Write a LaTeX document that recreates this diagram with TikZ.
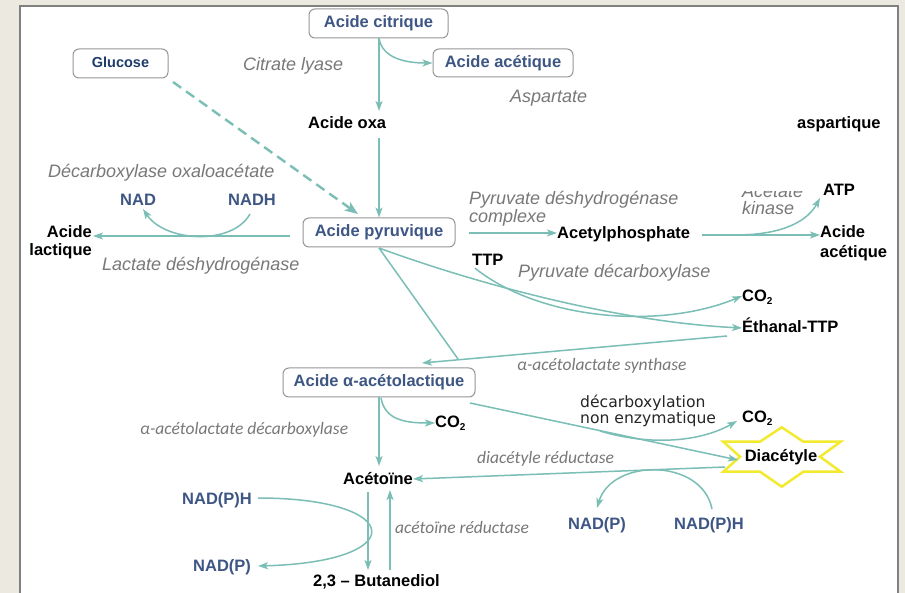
\documentclass[tikz,border=0pt]{standalone}
\usepackage{fontspec}
\setmainfont{Liberation Sans}
\newfontfamily\myr{Carlito}
\newfontfamily\dvs{DejaVu Sans}
\usetikzlibrary{arrows.meta}
\definecolor{teal1}{RGB}{122,190,182}
\definecolor{bluet}{RGB}{62,86,132}
\definecolor{glub}{RGB}{30,60,105}
\definecolor{grayt}{RGB}{120,120,120}
\definecolor{boxg}{RGB}{150,150,150}
\definecolor{beige}{RGB}{236,234,224}
\definecolor{frameg}{RGB}{128,128,128}
\definecolor{staryel}{RGB}{242,234,46}
\newcommand\cotwo{CO\raisebox{-2.5pt}{\fontsize{10}{10}\selectfont 2}}
\begin{document}
\begin{tikzpicture}[x=1pt,y=-1pt,
  bk/.style={font=\fontsize{16.5}{18}\selectfont\bfseries, inner sep=0pt, text=black},
  bl/.style={bk, text=bluet},
  it/.style={font=\fontsize{18}{20}\selectfont\itshape, inner sep=0pt, text=grayt},
  my/.style={font=\myr\fontsize{17.5}{20}\selectfont\itshape, inner sep=0pt, text=grayt},
  box/.style={draw=boxg, line width=1pt, rounded corners=6pt, fill=white,
    font=\fontsize{16.5}{18}\selectfont\bfseries, text=bluet, inner sep=0pt,
    text height=12pt, text depth=3.5pt},
  con/.style={draw=teal1, line width=1.5pt},
  arr/.style={con, -{Stealth[length=10pt,width=7pt,inset=2.5pt]}},
]
\useasboundingbox (0,0) rectangle (905,593);
\fill[beige] (0,0) rectangle (905,593);
\filldraw[fill=white, draw=frameg, line width=1.5pt] (20,6) rectangle (898,610);

% boxes
\node[box, minimum width=139pt, minimum height=29pt] (cit) at (378.5,23.5) {Acide citrique};
\node[box, minimum width=140pt, minimum height=28pt] (ace1) at (503,63) {Acide acétique};
\node[box, minimum width=95pt, minimum height=29pt, font=\fontsize{14.5}{16}\selectfont\bfseries, text=glub] (glu) at (120.5,63.5) {Glucose};
\node[box, minimum width=152pt, minimum height=29pt] (pyr) at (379,232.5) {Acide pyruvique};
\node[box, minimum width=192pt, minimum height=29pt] (alp) at (379,382.5) {Acide α-acétolactique};

% black bold labels
\node[bk, anchor=base west] (oxa) at (308,129) {Acide oxa};
\node[bk, anchor=base west] (asp) at (797,129) {aspartique};
\node[bk, anchor=base west] (acp) at (557,239) {Acetylphosphate};
\node[bk, anchor=base west] (atp) at (823,196) {ATP};
\node[bk, anchor=base west] (aa1) at (820,238) {Acide};
\node[bk, anchor=base west] (aa2) at (820,258) {acétique};
\node[bk, anchor=base west] (ttp) at (472,266) {TTP};
\node[bk, anchor=base west] (co2a) at (742,302) {\cotwo};
\node[bk, anchor=base west] (eth) at (742,333) {Éthanal-TTP};
\node[bk, anchor=base west] (co2b) at (435,428) {\cotwo};
\node[bk, anchor=base west] (co2c) at (742,423) {\cotwo};
\node[bk, anchor=base west] (aco) at (343,484) {Acétoïne};
\node[bk, anchor=base west] (but) at (313,586) {2,3 – Butanediol};
\node[bk, anchor=base east] (lac1) at (92,238) {Acide};
\node[bk, anchor=base east] (lac2) at (92,256) {lactique};

% blue labels
\node[bl, anchor=base west] (nad) at (120,206) {NAD};
\node[bl, anchor=base west] (nadh) at (228,206) {NADH};
\node[bl, anchor=base west] (nph1) at (182,504) {NAD(P)H};
\node[bl, anchor=base west] (np1) at (193,571) {NAD(P)};
\node[bl, anchor=base west] (np2) at (568,529) {NAD(P)};
\node[bl, anchor=base west] (nph2) at (674,529) {NAD(P)H};

% grey italic labels
\node[it, anchor=base west] (e1) at (243,71) {Citrate lyase};
\node[it, anchor=base west] (e2) at (510,103) {Aspartate};
\node[it, anchor=base west] (e3) at (48,178) {Décarboxylase oxaloacétate};
\node[it, anchor=base west] (e4) at (102,271) {Lactate déshydrogénase};
\node[it, anchor=base west] (e5) at (469,205) {Pyruvate déshydrogénase};
\node[it, anchor=base west] (e5b) at (469,223) {complexe};
\begin{scope}
\clip (730,192) rectangle (815,203);
\node[it, anchor=base west] (e6) at (742,198) {Acétate};
\end{scope}
\node[it, anchor=base west] (e6b) at (742,215) {kinase};
\node[it, anchor=base west] (e7) at (518,278) {Pyruvate décarboxylase};
\node[my, anchor=base west] (e8) at (517,371) {α-acétolactate synthase};
\node[my, anchor=base west] (e9) at (140,435) {α-acétolactate décarboxylase};
\node[my, anchor=base west] (e10) at (477,464) {diacétyle réductase};
\node[my, anchor=base west] (e11) at (395,533) {acétoïne réductase};
\node[font=\dvs\fontsize{15.6}{17}\selectfont, text=black!85, inner sep=0pt, anchor=base west] (e12) at (580,407) {décarboxylation};
\node[font=\dvs\fontsize{15.6}{17}\selectfont, text=black!85, inner sep=0pt, anchor=base west] (e12b) at (580,424) {non enzymatique};

% star
\draw[staryel, line width=2.5pt, fill=white] (781.7,427.3) -- (803.3,441.7) -- (840.7,441.7) -- (820,456.7) -- (840.7,471.7) -- (803.3,471.7) -- (781.7,486.7) -- (760,471.7) -- (723.3,471.7) -- (740,456.7) -- (723.3,441.7) -- (760,441.7) -- cycle;
\node[bk, anchor=base] (dia) at (781,461) {Diacétyle};

% coordinates
\coordinate (c1) at (379,38);
\coordinate (oxt) at (379,111);
\coordinate (oxb) at (379,138);
\coordinate (g1) at (173,82);
\coordinate (pyrN) at (358,214);
\coordinate (pyrL) at (290,236);
\coordinate (lacR) at (93,236);
\coordinate (pyrR) at (469,233);
\coordinate (acpR) at (702,235);
\coordinate (acpB) at (735,235);
\coordinate (pyrB) at (379,248);
\coordinate (join) at (458,359);
\coordinate (ethL) at (727,336);
\coordinate (alpT) at (422,363);
\coordinate (alpR) at (470,403);
\coordinate (brk) at (600,431);
\coordinate (diaL) at (738,460);
\coordinate (diaL2) at (725,467);

% connectors
\draw[arr] (c1) .. controls (382,58) and (405,63) .. (ace1.west);
\draw[arr] (c1) -- (oxt);
\draw[arr] (oxb) -- (pyr.north -| oxb);
\draw[con, dash pattern=on 10pt off 6pt, line width=2.4pt, -{Stealth[length=13pt,width=10pt,inset=3pt]}] (g1) -- (pyrN);
\draw[arr] (pyrL) -- (lacR);
\draw[arr] (250,214) .. controls (232,246) and (165,242) .. (143,209);
\draw[arr] (pyrR) -- (acp.west |- pyrR);
\draw[arr] (acpR) -- (aa1.west |- acpR);
\draw[arr] (acpB) .. controls (785,235) and (808,220) .. (820,198);
\draw[arr] (pyrB) .. controls (480,285) and (620,322) .. (eth.west |- 0,328);
\draw[arr] (ttp.south west) ++(3pt,-2pt) .. controls (540,320) and (660,330) .. (co2a.west |- 0,296);
\draw[con] (pyrB) -- (join);
\draw[arr] (ethL) -- (alpT);
\draw[arr] (alp.south) -- (379,466);
\draw[arr] (381,398) .. controls (385,420) and (405,423) .. (co2b.west |- 0,423);
\draw[arr] (alpR) -- (diaL);
\draw[arr] (brk) .. controls (650,446) and (700,442) .. (737,421);
\draw[arr] (diaL2) -- (aco.east |- 0,479);
\draw[arr] (712,509) .. controls (702,458) and (612,458) .. (597,508);
\draw[arr] (368,492) -- (368,570);
\draw[arr] (390,570) -- (390,490);
\draw[arr] (258,498) .. controls (405,498) and (412,562) .. (258,566);
\end{tikzpicture}
\end{document}
